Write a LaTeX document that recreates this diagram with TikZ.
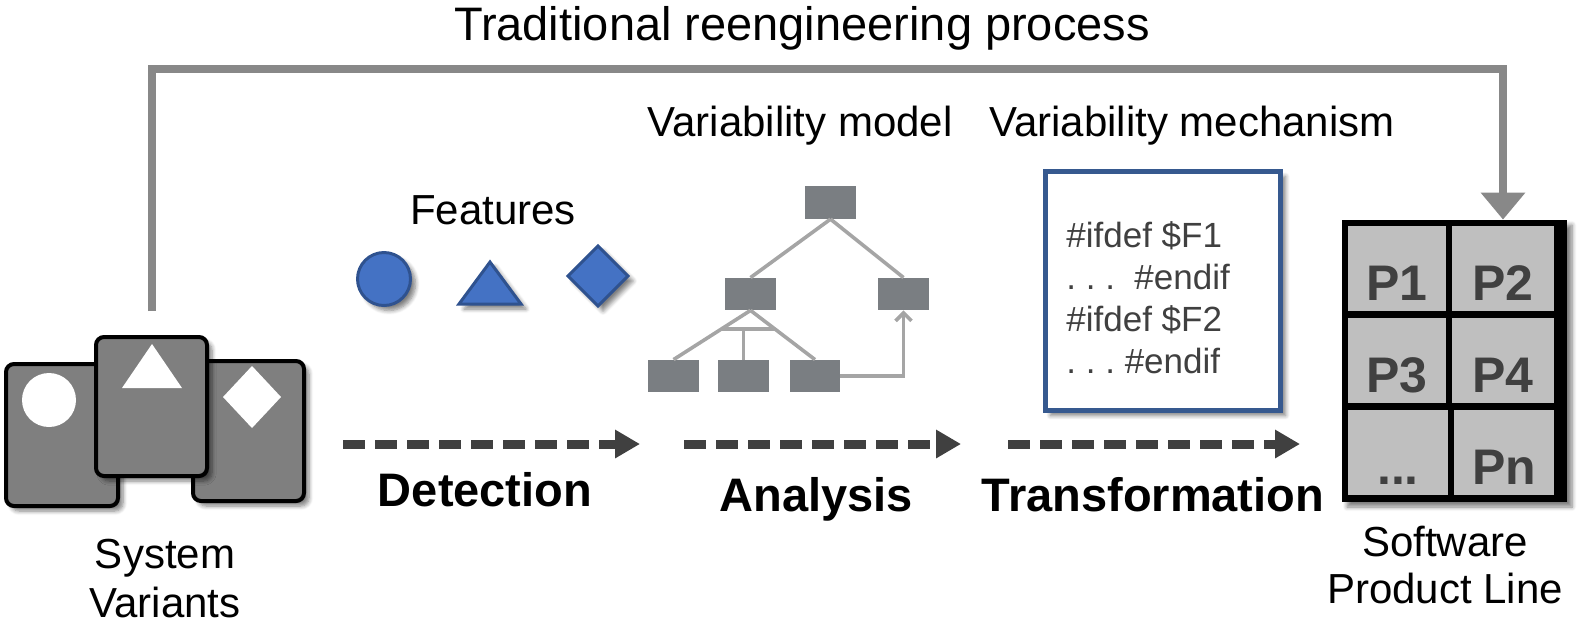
\documentclass[tikz,border=0pt]{standalone}
\usepackage{fontspec}
\setmainfont{Liberation Sans}
\usetikzlibrary{arrows.meta,shadows.blur,calc}
\definecolor{linegray}{HTML}{888888}
\definecolor{cardfill}{HTML}{7F7F7F}
\definecolor{featfill}{HTML}{4472C4}
\definecolor{featdraw}{HTML}{2F528F}
\definecolor{treebox}{HTML}{7A7E82}
\definecolor{treeline}{HTML}{A5A5A5}
\definecolor{codeborder}{HTML}{36598F}
\definecolor{codetext}{HTML}{404040}
\definecolor{cellgray}{HTML}{BFBFBF}
\definecolor{ptext}{HTML}{404040}
\definecolor{dashgray}{HTML}{404040}
\begin{document}
\begin{tikzpicture}[x=0.5pt,y=-0.5pt,
  myshadow/.style={blur shadow={shadow xshift=2.5pt,shadow yshift=-2.5pt,shadow opacity=50,shadow blur steps=6}},
  card/.style={draw=black,line width=2pt,fill=cardfill,rounded corners=4pt,inner sep=0pt,myshadow},
  feat/.style={draw=featdraw,fill=featfill,line width=1.5pt,myshadow},
  tbox/.style={fill=treebox,inner sep=0pt,minimum width=25.5pt,minimum height=16.25pt},
  tline/.style={draw=treeline,line width=1.8pt},
  cell/.style={fill=cellgray,inner sep=0pt,font=\fontsize{25}{25}\selectfont\bfseries,text=ptext,text height=31.5pt,text depth=0pt},
  lbl/.style={font=\fontsize{21}{25}\selectfont,anchor=base,inner sep=0pt},
  steplabel/.style={font=\fontsize{23.5}{28}\selectfont\bfseries,anchor=base,inner sep=0pt},
  codeline/.style={font=\fontsize{17.5}{21}\selectfont,text=codetext,anchor=base west,inner sep=0pt},
  flow/.style={draw=dashgray,line width=4.5pt,dash pattern=on 11pt off 5pt,-{Triangle[length=12.5pt,width=13.5pt]}},
  topflow/.style={draw=linegray,line width=4pt,-{Triangle[length=13.5pt,width=21.5pt]}}]
\useasboundingbox (0,0) rectangle (1582,628);

% title
\node[font=\fontsize{23.5}{28}\selectfont,anchor=base,inner sep=0pt] (title) at (802,40) {Traditional reengineering process};

% system variants cards
\node[card,minimum width=56pt,minimum height=71pt] (c1) at (62,435) {};
\node[card,minimum width=55.5pt,minimum height=70pt] (c3) at (248.5,431) {};
\node[card,minimum width=55.5pt,minimum height=69.5pt] (c2) at (151.5,406.5) {};
\node[circle,fill=white,inner sep=0pt,minimum size=27pt] (s1) at (49,400) {};
\fill[white] (152,344) -- (182,388) -- (122,388) -- cycle;
\fill[white] (252,366) -- (281,397) -- (252,428) -- (223,397) -- cycle;
\node[lbl] (sv1) at (165,568) {System};
\node[lbl] (sv2) at (165,617) {Variants};

% features
\node[lbl] (feat) at (493,224) {Features};
\node[feat,circle,inner sep=0pt,minimum size=26.5pt] (f1) at (384,279) {};
\path[feat] (490,262) -- (521,304) -- (459,304) -- cycle;
\path[feat] (598,246) -- (628,276) -- (598,306) -- (568,276) -- cycle;

% variability model
\node[lbl] (vm) at (800,136) {Variability model};
\node[tbox] (t) at (830.5,202.5) {};
\node[tbox,minimum height=16pt] (ml) at (750.5,294) {};
\node[tbox,minimum height=16pt] (mr) at (903.5,294) {};
\node[tbox,minimum height=16pt] (b1) at (673.5,376) {};
\node[tbox,minimum height=16pt] (b2) at (743.5,376) {};
\node[tbox,minimum height=16pt,minimum width=25pt] (b3) at (815,376) {};
\draw[tline] (t.south) -- (ml.north);
\draw[tline] (t.south) -- (mr.north);
\draw[tline] (ml.south) -- (b1.north);
\draw[tline] (ml.south) -- (b3.north);
\coordinate (barl) at ($(ml.south)!0.38!(b1.north)$);
\coordinate (barr) at ($(ml.south)!0.38!(b3.north)$);
\draw[tline] (barl) -- (barr);
\draw[tline] (b2.north) -- (b2.north |- barl);
\draw[tline,-{Straight Barb[length=4pt,width=8pt]}] (b3.east) -| (mr.south);

% variability mechanism
\node[lbl] (vmech) at (1192,136) {Variability mechanism};
\node[draw=codeborder,line width=2.5pt,fill=white,minimum width=117.5pt,minimum height=119.5pt,myshadow] (code) at (1163,291) {};
\node[codeline] (l1) at (1066,247) {\#ifdef \$F1};
\node[codeline] (l2) at (1066,289) {.\ .\ .\ \ \#endif};
\node[codeline] (l3) at (1066,331) {\#ifdef \$F2};
\node[codeline] (l4) at (1066,373) {.\ .\ .\ \#endif};

% product line grid
\node[fill=black,inner sep=0pt,minimum width=112.5pt,minimum height=141pt,myshadow] (grid) at (1454.5,361) {};
\node[cell,minimum width=49pt,minimum height=42.5pt] (p1) at (1397,268.5) {P1};
\node[cell,minimum width=51pt,minimum height=42.5pt] (p2) at (1503,268.5) {P2};
\node[cell,minimum width=49pt,minimum height=42.5pt] (p3) at (1397,360.5) {P3};
\node[cell,minimum width=51pt,minimum height=42.5pt] (p4) at (1503,360.5) {P4};
\node[cell,minimum width=50pt,minimum height=42.5pt] (p5) at (1398,452.5) {...};
\node[cell,minimum width=50pt,minimum height=42.5pt] (p6) at (1504,452.5) {Pn};
\node[lbl] (spl1) at (1445,556) {Software};
\node[lbl] (spl2) at (1445,603) {Product Line};

% top connector
\coordinate (tstart) at ($(c2.north)+(0,-24)$);
\coordinate (ttop) at (0,69);
\draw[topflow] (tstart) -- (tstart |- ttop) -| (p2 |- grid.north);

% process arrows
\coordinate (a1s) at (343,444); \coordinate (a1e) at (640,444);
\coordinate (a2s) at (684,444); \coordinate (a2e) at (961,444);
\coordinate (a3s) at (1008,444); \coordinate (a3e) at (1300,444);
\draw[flow] (a1s) -- (a1e);
\draw[flow] (a2s) -- (a2e);
\draw[flow] (a3s) -- (a3e);
\node[steplabel] (det) at (485,506) {Detection};
\node[steplabel] (ana) at (816,511) {Analysis};
\node[steplabel] (tra) at (1153,511) {Transformation};
\end{tikzpicture}
\end{document}
